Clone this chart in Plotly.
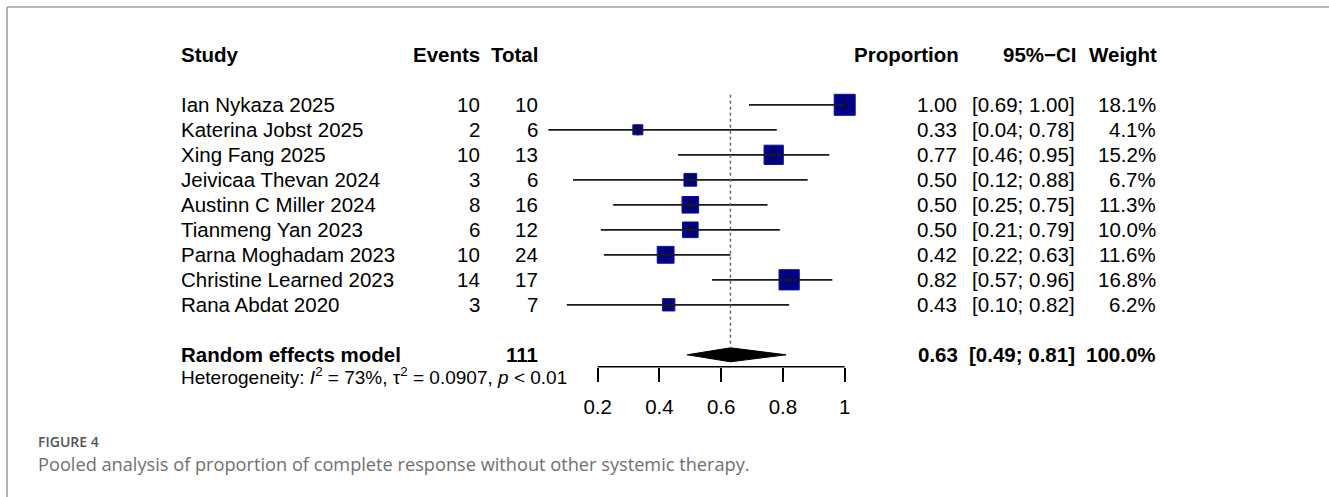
import math
import plotly.graph_objects as go

# ---- study data -------------------------------------------------------------
studies = ["Ian Nykaza 2025", "Katerina Jobst 2025", "Xing Fang 2025",
           "Jeivicaa Thevan 2024", "Austinn C Miller 2024", "Tianmeng Yan 2023",
           "Parna Moghadam 2023", "Christine Learned 2023", "Rana Abdat 2020"]
events = [10, 2, 10, 3, 8, 6, 10, 14, 3]
totals = [10, 6, 13, 6, 16, 12, 24, 17, 7]
proportion = [1.00, 0.33, 0.77, 0.50, 0.50, 0.50, 0.42, 0.82, 0.43]
ci_lower = [0.69, 0.04, 0.46, 0.12, 0.25, 0.21, 0.22, 0.57, 0.10]
ci_upper = [1.00, 0.78, 0.95, 0.88, 0.75, 0.79, 0.63, 0.96, 0.82]
weights = [18.1, 4.1, 15.2, 6.7, 11.3, 10.0, 11.6, 16.8, 6.2]

# pooled random effects estimate
pooled_total = 111
pooled_est = 0.63
pooled_lower = 0.49
pooled_upper = 0.81
pooled_weight = 100.0
het_i2 = "73%"
het_tau2 = "0.0907"
het_p = "0.01"

axis_ticks = [0.2, 0.4, 0.6, 0.8, 1.0]
axis_ticktext = ["0.2", "0.4", "0.6", "0.8", "1"]

# ---- layout helpers ---------------------------------------------------------
W, H = 1329, 497
FONT = "Liberation Sans, Arial, Helvetica, sans-serif"
CAP_FONT = "Open Sans, Noto Sans, sans-serif"
FS = 20.5

rows = list(range(1, len(studies) + 1))       # one row per study
summary_row = len(studies) + 2                  # pooled row after a gap
header_row = -1


def px(x):
    return x / W


def py(y):
    return (H - y) / H


fig = go.Figure()

# squares, area proportional to weight
fig.add_trace(go.Scatter(
    x=proportion, y=rows, mode="markers",
    marker=dict(symbol="square", size=[4.94 * math.sqrt(w) for w in weights],
                color="#000088", opacity=1, line=dict(color="#10108f", width=1)),
    hoverinfo="skip", showlegend=False))

# confidence interval whiskers
ci_x, ci_y = [], []
for lo, hi, r in zip(ci_lower, ci_upper, rows):
    ci_x += [lo, hi, None]
    ci_y += [r, r, None]
fig.add_trace(go.Scatter(x=ci_x, y=ci_y, mode="lines",
                         line=dict(color="#1a1a1a", width=1.7),
                         hoverinfo="skip", showlegend=False))

# point estimate ticks
fig.add_trace(go.Scatter(
    x=proportion, y=rows, mode="markers",
    marker=dict(symbol="line-ns", size=8, opacity=1, line=dict(color="#111", width=1.4)),
    hoverinfo="skip", showlegend=False))

# pooled diamond
half_h = 0.28
fig.add_trace(go.Scatter(
    x=[pooled_lower, pooled_est, pooled_upper, pooled_est, pooled_lower],
    y=[summary_row, summary_row - half_h, summary_row, summary_row + half_h, summary_row],
    mode="lines", fill="toself", fillcolor="black",
    line=dict(color="black", width=1), hoverinfo="skip", showlegend=False))

shapes = []
# dotted reference line at the pooled estimate
shapes.append(dict(type="line", xref="x", yref="y",
                   x0=pooled_est, x1=pooled_est, y0=0.6, y1=summary_row - half_h,
                   line=dict(color="#666", width=1.5, dash="dot")))
# axis baseline between first and last tick
shapes.append(dict(type="line", xref="x", yref="y domain",
                   x0=axis_ticks[0], x1=axis_ticks[-1], y0=0, y1=0,
                   line=dict(color="black", width=1.5)))
# panel border (top and left)
shapes.append(dict(type="line", xref="paper", yref="paper",
                   x0=px(7), x1=1, y0=py(7), y1=py(7),
                   line=dict(color="#a0a0a0", width=1.6)))
shapes.append(dict(type="line", xref="paper", yref="paper",
                   x0=px(7), x1=px(7), y0=0, y1=py(7),
                   line=dict(color="#a0a0a0", width=1.6)))

annotations = []


def txt(text, x, y, anchor="right", size=FS, font=FONT, color="black", yref="y",
        weight="normal"):
    annotations.append(dict(text=text, x=px(x), y=y, xref="paper", yref=yref,
                            xanchor=anchor, yanchor="middle", showarrow=False,
                            borderpad=0,
                            font=dict(family=font, size=size, color=color, weight=weight)))


# column headers
txt("<b>Study</b>", 180, header_row, anchor="left")
txt("<b>Events</b>", 481, header_row)
txt("<b>Total</b>", 539, header_row)
txt("<b>Proportion</b>", 960, header_row)
txt("<b>95%\u2212CI</b>", 1078, header_row)
txt("<b>Weight</b>", 1158, header_row)

# study rows
for r, s, e, n, p, lo, hi, w in zip(rows, studies, events, totals, proportion,
                                    ci_lower, ci_upper, weights):
    txt(s, 180, r, anchor="left")
    txt(str(e), 481, r)
    txt(str(n), 539, r)
    txt(f"{p:.2f}", 958, r)
    txt(f"[{lo:.2f}; {hi:.2f}]", 1076, r)
    txt(f"{w:.1f}%", 1157, r)

# pooled row
txt("<b>Random effects model</b>", 180, summary_row, anchor="left")
txt(f"<b>{pooled_total}</b>", 539, summary_row)
txt(f"<b>{pooled_est:.2f}</b>", 959, summary_row)
txt(f"<b>[{pooled_lower:.2f}; {pooled_upper:.2f}]</b>", 1076, summary_row)
txt(f"<b>{pooled_weight:.1f}%</b>", 1157, summary_row)

# heterogeneity statistics (below the plotting range, so placed in paper units)
txt(f"Heterogeneity: <i>I</i><sup>2</sup> = {het_i2}, \u03c4<sup>2</sup> = {het_tau2}, "
    f"<i>p</i> &lt; {het_p}", 180, py(376), anchor="left", size=19, yref="paper")

# figure caption
txt("FIGURE 4", 37, py(441), anchor="left", size=14, font=CAP_FONT,
    color="#555555", yref="paper", weight=600)
txt("Pooled analysis of proportion of complete response without other systemic therapy.",
    37, py(464), anchor="left", size=18.2, font=CAP_FONT, color="#707070", yref="paper")

# axes: 308.75 px per unit, 0.2 at x=597.7, baseline at y=366.7
x_lo, x_hi = 0.0, 1.05
ppu = 308.75
x0_px = 597.7 - 0.2 * ppu
row_px, row0_px = 25.0, 79.8
y_bottom_px, y_top_px = 366.7, 20.0

fig.update_layout(
    width=W, height=H, margin=dict(l=0, r=0, t=0, b=0),
    paper_bgcolor="white", plot_bgcolor="white",
    font=dict(family=FONT, size=FS, color="black"),
    shapes=shapes, annotations=annotations,
    xaxis=dict(range=[x_lo, x_hi],
               domain=[x0_px / W, (x0_px + (x_hi - x_lo) * ppu) / W],
               tickvals=axis_ticks, ticktext=axis_ticktext,
               ticks="outside", ticklen=14, tickwidth=1.5, tickcolor="black",
               ticklabelstandoff=8,
               showline=False, showgrid=False, zeroline=False,
               tickfont=dict(family=FONT, size=FS, color="black"),
               fixedrange=True),
    yaxis=dict(range=[(y_bottom_px - row0_px) / row_px, (y_top_px - row0_px) / row_px],
               domain=[(H - y_bottom_px) / H, (H - y_top_px) / H],
               visible=False, fixedrange=True),
)

fig.write_html("out.html")
